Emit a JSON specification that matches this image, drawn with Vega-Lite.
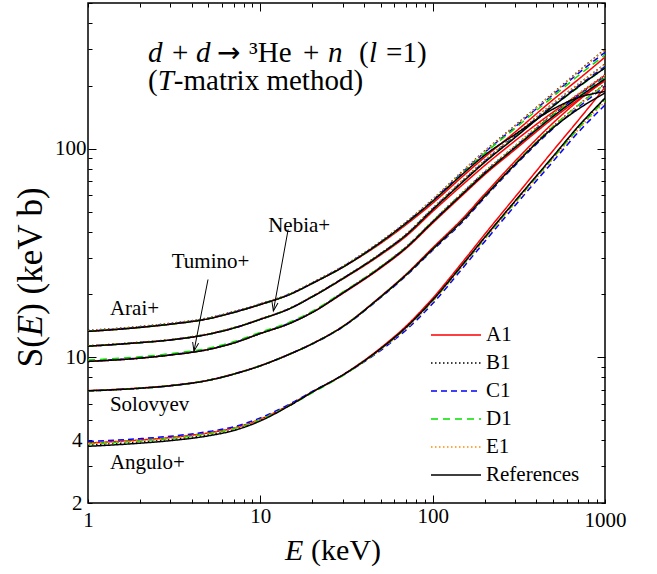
{
  "$schema": "https://vega.github.io/schema/vega-lite/v6.json",
  "width": 517,
  "height": 500,
  "autosize": "none",
  "padding": {"left": 88, "top": 3, "right": 52, "bottom": 71},
  "background": "white",
  "config": {
    "font": "Liberation Serif",
    "view": {"stroke": "black", "strokeWidth": 1.5},
    "axis": {"grid": false, "domainColor": "black", "domainWidth": 1.5, "tickColor": "black", "tickWidth": 1, "labelColor": "black", "titleColor": "black", "labelFont": "Liberation Serif", "titleFont": "Liberation Serif", "labelFontSize": 21, "titleFontWeight": "normal", "labelOverlap": false, "labelFlush": false}
  },
  "datasets": {
    "curves": [
      {"g": "Arai", "E": 1, "A1": 13.3, "B1": 13.45, "C1": 13.35, "D1": 13.3, "E1": 13.4, "References": 13.3},
      {"g": "Arai", "E": 2, "A1": 13.9, "B1": 14.05, "C1": 13.95, "D1": 13.9, "E1": 14.0, "References": 13.9},
      {"g": "Arai", "E": 3, "A1": 14.4, "B1": 14.55, "C1": 14.45, "D1": 14.4, "E1": 14.5, "References": 14.4},
      {"g": "Arai", "E": 5, "A1": 15.3, "B1": 15.45, "C1": 15.35, "D1": 15.3, "E1": 15.4, "References": 15.3},
      {"g": "Arai", "E": 7, "A1": 16.4, "B1": 16.55, "C1": 16.45, "D1": 16.4, "E1": 16.5, "References": 16.4},
      {"g": "Arai", "E": 10, "A1": 17.9, "B1": 18.05, "C1": 17.95, "D1": 17.9, "E1": 18.0, "References": 17.9},
      {"g": "Arai", "E": 15, "A1": 20.1, "B1": 20.25, "C1": 20.15, "D1": 20.1, "E1": 20.2, "References": 20.1},
      {"g": "Arai", "E": 20, "A1": 22.6, "B1": 22.8, "C1": 22.65, "D1": 22.6, "E1": 22.7, "References": 22.6},
      {"g": "Arai", "E": 30, "A1": 27.0, "B1": 27.3, "C1": 27.1, "D1": 27.0, "E1": 27.2, "References": 27.0},
      {"g": "Arai", "E": 50, "A1": 35.2, "B1": 36.0, "C1": 35.7, "D1": 35.5, "E1": 35.9, "References": 35.6},
      {"g": "Arai", "E": 70, "A1": 43.2, "B1": 44.5, "C1": 44.1, "D1": 43.8, "E1": 44.4, "References": 43.9},
      {"g": "Arai", "E": 100, "A1": 54.8, "B1": 57.2, "C1": 56.6, "D1": 56.1, "E1": 57.0, "References": 56.0},
      {"g": "Arai", "E": 150, "A1": 74, "B1": 78.5, "C1": 77.5, "D1": 76.5, "E1": 78.2, "References": 75.9},
      {"g": "Arai", "E": 200, "A1": 91, "B1": 97.5, "C1": 96, "D1": 95, "E1": 97, "References": 93},
      {"g": "Arai", "E": 300, "A1": 120, "B1": 129, "C1": 127, "D1": 125, "E1": 128.5, "References": 117},
      {"g": "Arai", "E": 500, "A1": 172, "B1": 185, "C1": 182, "D1": 178, "E1": 184, "References": 155},
      {"g": "Arai", "E": 700, "A1": 215, "B1": 235, "C1": 230, "D1": 224, "E1": 234, "References": 176},
      {"g": "Arai", "E": 1000, "A1": 275, "B1": 300, "C1": 290, "D1": 282, "E1": 298, "References": 188},

      {"g": "Nebia", "E": 1, "A1": 11.3, "B1": 11.35, "C1": 11.3, "D1": 11.3, "E1": 11.35, "References": 11.3},
      {"g": "Nebia", "E": 2, "A1": 11.75, "B1": 11.8, "C1": 11.75, "D1": 11.75, "E1": 11.8, "References": 11.75},
      {"g": "Nebia", "E": 3, "A1": 12.1, "B1": 12.15, "C1": 12.1, "D1": 12.1, "E1": 12.15, "References": 12.1},
      {"g": "Nebia", "E": 5, "A1": 12.9, "B1": 12.95, "C1": 12.9, "D1": 12.9, "E1": 12.95, "References": 12.9},
      {"g": "Nebia", "E": 7, "A1": 13.8, "B1": 13.85, "C1": 13.8, "D1": 13.8, "E1": 13.85, "References": 13.8},
      {"g": "Nebia", "E": 10, "A1": 15.2, "B1": 15.25, "C1": 15.2, "D1": 15.2, "E1": 15.25, "References": 15.2},
      {"g": "Nebia", "E": 15, "A1": 17.2, "B1": 17.25, "C1": 17.2, "D1": 17.2, "E1": 17.25, "References": 17.2},
      {"g": "Nebia", "E": 20, "A1": 19.5, "B1": 19.6, "C1": 19.55, "D1": 19.5, "E1": 19.6, "References": 19.5},
      {"g": "Nebia", "E": 30, "A1": 23.7, "B1": 23.9, "C1": 23.85, "D1": 23.8, "E1": 23.9, "References": 23.8},
      {"g": "Nebia", "E": 50, "A1": 31.0, "B1": 31.5, "C1": 31.4, "D1": 31.3, "E1": 31.5, "References": 31.3},
      {"g": "Nebia", "E": 70, "A1": 38.0, "B1": 38.9, "C1": 38.7, "D1": 38.5, "E1": 38.9, "References": 38.5},
      {"g": "Nebia", "E": 100, "A1": 50, "B1": 51.8, "C1": 51.5, "D1": 51.1, "E1": 51.8, "References": 51},
      {"g": "Nebia", "E": 150, "A1": 67.5, "B1": 70.8, "C1": 70.2, "D1": 69.6, "E1": 70.8, "References": 69.5},
      {"g": "Nebia", "E": 200, "A1": 83, "B1": 87.8, "C1": 87, "D1": 86.2, "E1": 87.8, "References": 86},
      {"g": "Nebia", "E": 300, "A1": 109, "B1": 116, "C1": 115, "D1": 113.5, "E1": 116, "References": 113},
      {"g": "Nebia", "E": 500, "A1": 150, "B1": 165, "C1": 162, "D1": 160, "E1": 165, "References": 160},
      {"g": "Nebia", "E": 700, "A1": 182, "B1": 204, "C1": 200, "D1": 197, "E1": 204, "References": 198},
      {"g": "Nebia", "E": 1000, "A1": 225, "B1": 255, "C1": 248, "D1": 244, "E1": 254, "References": 244},

      {"g": "Tumino", "E": 1, "A1": 9.55, "B1": 9.55, "C1": 9.58, "D1": 9.7, "E1": 9.56, "References": 9.55},
      {"g": "Tumino", "E": 2, "A1": 9.9, "B1": 9.9, "C1": 9.93, "D1": 10.05, "E1": 9.91, "References": 9.9},
      {"g": "Tumino", "E": 3, "A1": 10.25, "B1": 10.25, "C1": 10.28, "D1": 10.4, "E1": 10.26, "References": 10.25},
      {"g": "Tumino", "E": 5, "A1": 10.9, "B1": 10.9, "C1": 10.93, "D1": 11.05, "E1": 10.91, "References": 10.9},
      {"g": "Tumino", "E": 7, "A1": 11.7, "B1": 11.7, "C1": 11.73, "D1": 11.86, "E1": 11.71, "References": 11.7},
      {"g": "Tumino", "E": 10, "A1": 13.0, "B1": 13.0, "C1": 13.04, "D1": 13.18, "E1": 13.01, "References": 13.0},
      {"g": "Tumino", "E": 15, "A1": 14.6, "B1": 14.6, "C1": 14.65, "D1": 14.8, "E1": 14.62, "References": 14.6},
      {"g": "Tumino", "E": 20, "A1": 16.4, "B1": 16.45, "C1": 16.45, "D1": 16.6, "E1": 16.45, "References": 16.4},
      {"g": "Tumino", "E": 30, "A1": 20.2, "B1": 20.4, "C1": 20.35, "D1": 20.5, "E1": 20.4, "References": 20.3},
      {"g": "Tumino", "E": 50, "A1": 26.8, "B1": 27.2, "C1": 27.1, "D1": 27.2, "E1": 27.2, "References": 27.0},
      {"g": "Tumino", "E": 70, "A1": 33.2, "B1": 33.8, "C1": 33.7, "D1": 33.7, "E1": 33.8, "References": 33.5},
      {"g": "Tumino", "E": 100, "A1": 44, "B1": 45, "C1": 44.8, "D1": 44.8, "E1": 45, "References": 44.5},
      {"g": "Tumino", "E": 150, "A1": 60.2, "B1": 62, "C1": 61.7, "D1": 61.5, "E1": 62, "References": 61},
      {"g": "Tumino", "E": 200, "A1": 75, "B1": 77.5, "C1": 77, "D1": 76.6, "E1": 77.5, "References": 76},
      {"g": "Tumino", "E": 300, "A1": 99, "B1": 103, "C1": 102, "D1": 101.5, "E1": 103, "References": 101},
      {"g": "Tumino", "E": 500, "A1": 140, "B1": 148, "C1": 146, "D1": 145, "E1": 148, "References": 143},
      {"g": "Tumino", "E": 700, "A1": 172, "B1": 183, "C1": 180, "D1": 178, "E1": 183, "References": 176},
      {"g": "Tumino", "E": 1000, "A1": 212, "B1": 226, "C1": 222, "D1": 219, "E1": 225, "References": 216},

      {"g": "Solovyev", "E": 1, "A1": 6.92, "B1": 6.9, "C1": 6.9, "D1": 6.9, "E1": 6.9, "References": 6.9},
      {"g": "Solovyev", "E": 2, "A1": 7.12, "B1": 7.1, "C1": 7.1, "D1": 7.1, "E1": 7.1, "References": 7.1},
      {"g": "Solovyev", "E": 3, "A1": 7.32, "B1": 7.3, "C1": 7.3, "D1": 7.3, "E1": 7.3, "References": 7.3},
      {"g": "Solovyev", "E": 5, "A1": 7.77, "B1": 7.75, "C1": 7.75, "D1": 7.75, "E1": 7.75, "References": 7.75},
      {"g": "Solovyev", "E": 7, "A1": 8.32, "B1": 8.3, "C1": 8.3, "D1": 8.3, "E1": 8.3, "References": 8.3},
      {"g": "Solovyev", "E": 10, "A1": 9.12, "B1": 9.1, "C1": 9.1, "D1": 9.1, "E1": 9.1, "References": 9.1},
      {"g": "Solovyev", "E": 15, "A1": 10.42, "B1": 10.4, "C1": 10.4, "D1": 10.4, "E1": 10.4, "References": 10.4},
      {"g": "Solovyev", "E": 20, "A1": 11.62, "B1": 11.6, "C1": 11.58, "D1": 11.6, "E1": 11.6, "References": 11.6},
      {"g": "Solovyev", "E": 30, "A1": 14.05, "B1": 14.0, "C1": 13.95, "D1": 14.0, "E1": 14.0, "References": 14.0},
      {"g": "Solovyev", "E": 50, "A1": 19.6, "B1": 19.5, "C1": 19.35, "D1": 19.5, "E1": 19.45, "References": 19.5},
      {"g": "Solovyev", "E": 70, "A1": 25.0, "B1": 24.8, "C1": 24.55, "D1": 24.8, "E1": 24.7, "References": 24.8},
      {"g": "Solovyev", "E": 100, "A1": 33.5, "B1": 33.1, "C1": 32.6, "D1": 33.0, "E1": 32.9, "References": 33},
      {"g": "Solovyev", "E": 150, "A1": 46.5, "B1": 45.6, "C1": 44.8, "D1": 45.5, "E1": 45.3, "References": 45.5},
      {"g": "Solovyev", "E": 200, "A1": 60.5, "B1": 59.2, "C1": 58.2, "D1": 59, "E1": 58.8, "References": 59},
      {"g": "Solovyev", "E": 300, "A1": 87, "B1": 84.5, "C1": 83, "D1": 84.5, "E1": 84, "References": 84},
      {"g": "Solovyev", "E": 500, "A1": 133, "B1": 128, "C1": 125, "D1": 128, "E1": 127, "References": 126},
      {"g": "Solovyev", "E": 700, "A1": 170, "B1": 162, "C1": 158, "D1": 162, "E1": 161, "References": 155},
      {"g": "Solovyev", "E": 1000, "A1": 215, "B1": 205, "C1": 199, "D1": 204, "E1": 203, "References": 185},

      {"g": "Angulo", "E": 1, "A1": 3.88, "B1": 3.8, "C1": 3.94, "D1": 3.84, "E1": 3.85, "References": 3.74},
      {"g": "Angulo", "E": 2, "A1": 4.01, "B1": 3.93, "C1": 4.07, "D1": 3.97, "E1": 3.98, "References": 3.87},
      {"g": "Angulo", "E": 3, "A1": 4.12, "B1": 4.04, "C1": 4.18, "D1": 4.08, "E1": 4.09, "References": 3.98},
      {"g": "Angulo", "E": 5, "A1": 4.34, "B1": 4.26, "C1": 4.4, "D1": 4.3, "E1": 4.31, "References": 4.2},
      {"g": "Angulo", "E": 7, "A1": 4.58, "B1": 4.5, "C1": 4.64, "D1": 4.54, "E1": 4.55, "References": 4.45},
      {"g": "Angulo", "E": 10, "A1": 5.05, "B1": 5.0, "C1": 5.12, "D1": 5.02, "E1": 5.04, "References": 4.95},
      {"g": "Angulo", "E": 15, "A1": 5.95, "B1": 5.92, "C1": 6.0, "D1": 5.9, "E1": 5.93, "References": 5.9},
      {"g": "Angulo", "E": 20, "A1": 6.82, "B1": 6.8, "C1": 6.85, "D1": 6.75, "E1": 6.8, "References": 6.8},
      {"g": "Angulo", "E": 30, "A1": 8.22, "B1": 8.2, "C1": 8.2, "D1": 8.15, "E1": 8.18, "References": 8.2},
      {"g": "Angulo", "E": 50, "A1": 11.1, "B1": 11.0, "C1": 10.8, "D1": 10.95, "E1": 10.9, "References": 11.0},
      {"g": "Angulo", "E": 70, "A1": 14.1, "B1": 13.9, "C1": 13.5, "D1": 13.8, "E1": 13.7, "References": 13.9},
      {"g": "Angulo", "E": 100, "A1": 19.2, "B1": 18.8, "C1": 18.1, "D1": 18.6, "E1": 18.5, "References": 18.8},
      {"g": "Angulo", "E": 150, "A1": 28.8, "B1": 28.0, "C1": 26.9, "D1": 27.7, "E1": 27.5, "References": 28.0},
      {"g": "Angulo", "E": 200, "A1": 38.8, "B1": 37.4, "C1": 35.8, "D1": 37, "E1": 36.7, "References": 37.5},
      {"g": "Angulo", "E": 300, "A1": 58.5, "B1": 55.8, "C1": 53.3, "D1": 55.2, "E1": 54.6, "References": 56},
      {"g": "Angulo", "E": 500, "A1": 98, "B1": 91.5, "C1": 87, "D1": 90.5, "E1": 89.5, "References": 92},
      {"g": "Angulo", "E": 700, "A1": 137, "B1": 127, "C1": 120, "D1": 125, "E1": 123.5, "References": 128},
      {"g": "Angulo", "E": 1000, "A1": 197, "B1": 174, "C1": 162, "D1": 171, "E1": 168, "References": 175}
    ],
    "headRoman": [
      {"E": 3.073, "S": 260.8, "label": "+"},
      {"E": 8.599, "S": 260.8, "label": "³He"},
      {"E": 17.69, "S": 260.8, "label": "+"},
      {"E": 37.4, "S": 260.8, "label": "("},
      {"E": 53.63, "S": 260.8, "label": "=1)"},
      {"E": 2.23, "S": 191.6, "label": "("},
      {"E": 3.147, "S": 191.6, "label": "-matrix method)"}
    ],
    "headArrow": [
      {"E": 5.607, "S": 260.8, "label": "→"}
    ],
    "headItalic": [
      {"E": 2.23, "S": 260.8, "label": "d"},
      {"E": 4.235, "S": 260.8, "label": "d"},
      {"E": 24.72, "S": 260.8, "label": "n"},
      {"E": 42.74, "S": 260.8, "label": "l"},
      {"E": 2.538, "S": 191.6, "label": "T"}
    ],
    "xTitleRoman": [{"E": 19.7, "S": 1.0601, "label": "(keV)"}],
    "xTitleItalic": [{"E": 13.91, "S": 1.0601, "label": "E"}],
    "yTitleRoman": [
      {"E": 0.5408, "S": 8.956, "label": "S("},
      {"E": 0.5408, "S": 15.97, "label": ") (keV b)"}
    ],
    "yTitleItalic": [{"E": 0.5408, "S": 12.62, "label": "E"}],
    "groupLabels": [
      {"E": 1.34, "S": 15.9, "label": "Arai+"},
      {"E": 3.06, "S": 26.9, "label": "Tumino+"},
      {"E": 11.1, "S": 39.7, "label": "Nebia+"},
      {"E": 1.34, "S": 5.52, "label": "Solovyev"},
      {"E": 1.34, "S": 2.91, "label": "Angulo+"}
    ],
    "arrows": [
      {"E": 4.97, "S": 23.6, "E2": 4.12, "S2": 10.7},
      {"E": 14.5, "S": 41.0, "E2": 11.9, "S2": 16.66}
    ]
  },
  "resolve": {"axis": {"x": "independent", "y": "independent"}},
  "layer": [
    {
      "data": {"name": "curves"},
      "transform": [
        {"fold": ["A1", "B1", "C1", "D1", "E1", "References"], "as": ["m", "S"]},
        {"filter": "datum.m != 'References'"}
      ],
      "mark": {"type": "line", "interpolate": "monotone", "clip": true},
      "encoding": {
        "x": {"field": "E", "type": "quantitative", "scale": {"type": "log", "domain": [1, 1000], "nice": false},
          "axis": {"orient": "bottom", "values": [1,2,3,4,5,6,7,8,9,10,20,30,40,50,60,70,80,90,100,200,300,400,500,600,700,800,900,1000],
            "labelExpr": "(datum.value == 1 || datum.value == 10 || datum.value == 100 || datum.value == 1000) ? format(datum.value, 'd') : ''",
            "tickSize": {"condition": {"test": "datum.value == 10 || datum.value == 100", "value": -8}, "value": -4},
            "labelPadding": 10, "domain": false, "title": null}},
        "y": {"field": "S", "type": "quantitative", "scale": {"type": "log", "domain": [2, 500], "nice": false},
          "axis": {"orient": "left", "values": [2,3,4,5,6,7,8,9,10,20,30,40,50,60,70,80,90,100,200,300,400,500],
            "labelExpr": "(datum.value == 2 || datum.value == 4 || datum.value == 10 || datum.value == 100) ? format(datum.value, 'd') : ''",
            "tickSize": {"condition": {"test": "datum.value == 10 || datum.value == 100", "value": -8}, "value": -4},
            "labelPadding": 10, "domain": false, "title": null}},
        "color": {"field": "m", "type": "nominal",
          "scale": {"domain": ["A1", "B1", "C1", "D1", "E1", "References"], "range": ["#ff0000", "#000000", "#0000ff", "#00e000", "#ff8c00", "#000000"]},
          "legend": {"title": null, "orient": "none", "legendX": 357, "legendY": 321, "padding": 0,
            "symbolType": "M-2.5,0H2.5", "symbolSize": 400, "labelOffset": 19, "rowPadding": 7,
            "labelFont": "Liberation Serif", "labelFontSize": 21, "labelColor": "black"}},
        "strokeDash": {"field": "m", "type": "nominal",
          "scale": {"domain": ["A1", "B1", "C1", "D1", "E1", "References"], "range": [[1, 0], [1.5, 2.5], [6, 4], [7, 5], [1.5, 2.5], [1, 0]]}},
        "strokeWidth": {"field": "m", "type": "ordinal",
          "scale": {"domain": ["A1", "B1", "C1", "D1", "E1", "References"], "range": [1.5, 1.5, 1.5, 1.5, 1.5, 2.2]}},
        "detail": {"field": "g"}
      }
    },
    {
      "data": {"name": "curves"},
      "transform": [
        {"fold": ["A1", "B1", "C1", "D1", "E1", "References"], "as": ["m", "S"]},
        {"filter": "datum.m == 'References'"}
      ],
      "mark": {"type": "line", "interpolate": "monotone", "clip": true},
      "encoding": {
        "x": {"field": "E", "type": "quantitative", "axis": null},
        "y": {"field": "S", "type": "quantitative", "axis": null},
        "color": {"field": "m", "type": "nominal"},
        "strokeDash": {"field": "m", "type": "nominal"},
        "strokeWidth": {"field": "m", "type": "ordinal"},
        "detail": {"field": "g"}
      }
    },
    {
      "data": {"name": "headRoman"},
      "mark": {"type": "text", "align": "left", "baseline": "alphabetic", "fontSize": 29, "font": "Liberation Serif", "color": "black"},
      "encoding": {
        "x": {"field": "E", "type": "quantitative",
          "axis": {"orient": "top", "values": [1,2,3,4,5,6,7,8,9,10,20,30,40,50,60,70,80,90,100,200,300,400,500,600,700,800,900,1000],
            "labels": false, "title": null, "domain": false,
            "tickSize": {"condition": {"test": "datum.value == 10 || datum.value == 100", "value": -8}, "value": -4}}},
        "y": {"field": "S", "type": "quantitative",
          "axis": {"orient": "right", "values": [2,3,4,5,6,7,8,9,10,20,30,40,50,60,70,80,90,100,200,300,400,500],
            "labels": false, "title": null, "domain": false,
            "tickSize": {"condition": {"test": "datum.value == 10 || datum.value == 100", "value": -8}, "value": -4}}},
        "text": {"field": "label"}
      }
    },
    {
      "data": {"name": "headArrow"},
      "mark": {"type": "text", "align": "left", "baseline": "alphabetic", "fontSize": 28, "font": "DejaVu Sans", "color": "black"},
      "encoding": {
        "x": {"field": "E", "type": "quantitative", "axis": null},
        "y": {"field": "S", "type": "quantitative", "axis": null},
        "text": {"field": "label"}
      }
    },
    {
      "data": {"name": "headItalic"},
      "mark": {"type": "text", "align": "left", "baseline": "alphabetic", "fontSize": 29, "font": "Liberation Serif", "fontStyle": "italic", "color": "black"},
      "encoding": {
        "x": {"field": "E", "type": "quantitative", "axis": null},
        "y": {"field": "S", "type": "quantitative", "axis": null},
        "text": {"field": "label"}
      }
    },
    {
      "data": {"name": "xTitleRoman"},
      "mark": {"type": "text", "align": "left", "baseline": "alphabetic", "fontSize": 30, "font": "Liberation Serif", "color": "black"},
      "encoding": {
        "x": {"field": "E", "type": "quantitative", "axis": null},
        "y": {"field": "S", "type": "quantitative", "axis": null},
        "text": {"field": "label"}
      }
    },
    {
      "data": {"name": "xTitleItalic"},
      "mark": {"type": "text", "align": "left", "baseline": "alphabetic", "fontSize": 30, "font": "Liberation Serif", "fontStyle": "italic", "color": "black"},
      "encoding": {
        "x": {"field": "E", "type": "quantitative", "axis": null},
        "y": {"field": "S", "type": "quantitative", "axis": null},
        "text": {"field": "label"}
      }
    },
    {
      "data": {"name": "yTitleRoman"},
      "mark": {"type": "text", "align": "left", "baseline": "alphabetic", "angle": 270, "fontSize": 35, "font": "Liberation Serif", "color": "black"},
      "encoding": {
        "x": {"field": "E", "type": "quantitative", "axis": null},
        "y": {"field": "S", "type": "quantitative", "axis": null},
        "text": {"field": "label"}
      }
    },
    {
      "data": {"name": "yTitleItalic"},
      "mark": {"type": "text", "align": "left", "baseline": "alphabetic", "angle": 270, "fontSize": 35, "font": "Liberation Serif", "fontStyle": "italic", "color": "black"},
      "encoding": {
        "x": {"field": "E", "type": "quantitative", "axis": null},
        "y": {"field": "S", "type": "quantitative", "axis": null},
        "text": {"field": "label"}
      }
    },
    {
      "data": {"name": "groupLabels"},
      "mark": {"type": "text", "align": "left", "baseline": "alphabetic", "fontSize": 21, "font": "Liberation Serif", "color": "black"},
      "encoding": {
        "x": {"field": "E", "type": "quantitative", "axis": null},
        "y": {"field": "S", "type": "quantitative", "axis": null},
        "text": {"field": "label"}
      }
    },
    {
      "data": {"name": "arrows"},
      "mark": {"type": "rule", "color": "black", "strokeWidth": 1},
      "encoding": {
        "x": {"field": "E", "type": "quantitative", "axis": null},
        "y": {"field": "S", "type": "quantitative", "axis": null},
        "x2": {"field": "E2"},
        "y2": {"field": "S2"}
      }
    },
    {
      "data": {"name": "arrows"},
      "mark": {"type": "point", "shape": "M-0.35,-1L0,0L0.35,-1", "size": 300, "filled": false, "color": "black", "strokeWidth": 1, "angle": 11, "opacity": 1},
      "encoding": {
        "x": {"field": "E2", "type": "quantitative", "axis": null},
        "y": {"field": "S2", "type": "quantitative", "axis": null}
      }
    }
  ]
}
